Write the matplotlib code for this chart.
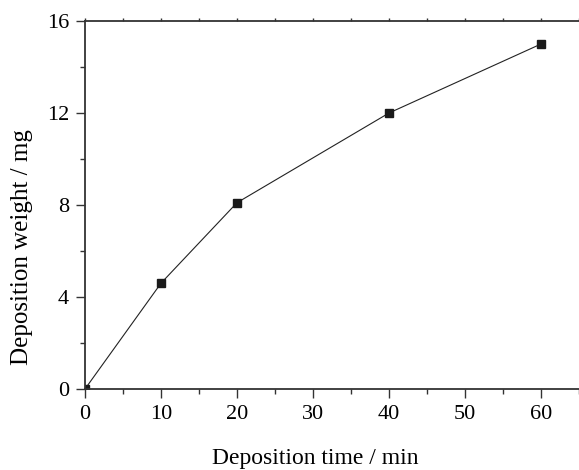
import matplotlib
matplotlib.use("Agg")
from matplotlib import pyplot as plt
from matplotlib.ticker import MultipleLocator

time_min = [0, 10, 20, 40, 60]
weight_mg = [0, 4.6, 8.1, 12.0, 15.0]

plt.rcParams["font.family"] = "Liberation Serif"

fig = plt.figure(figsize=(5.79, 4.70), dpi=100)
ax = fig.add_axes([0.1468, 0.1723, 0.8532, 0.783])

ax.plot(time_min, weight_mg, color="#222222", linewidth=0.8,
        marker="s", markersize=6, markerfacecolor="#1a1a1a",
        markeredgecolor="#1a1a1a")

ax.set_xlim(0, 65)
ax.set_ylim(0, 16)
ax.xaxis.set_major_locator(MultipleLocator(10))
ax.xaxis.set_minor_locator(MultipleLocator(5))
ax.yaxis.set_major_locator(MultipleLocator(4))
ax.yaxis.set_minor_locator(MultipleLocator(2))

for side in ["left", "bottom", "top"]:
    ax.spines[side].set_linewidth(1.3)
    ax.spines[side].set_color("#333333")
ax.spines["right"].set_visible(False)

ax.tick_params(which="major", direction="out", length=6.5, width=1.0,
               color="#333333", labelsize=16, pad=5)
ax.tick_params(which="minor", direction="out", length=3.5, width=1.0,
               color="#333333")

# small marks along the top frame every 5 min
top = ax.secondary_xaxis("top")
top.xaxis.set_major_locator(MultipleLocator(5))
top.tick_params(which="both", direction="out", length=2, width=1.0,
                color="#333333", labeltop=False)
top.spines["top"].set_visible(False)

ax.set_xlabel("Deposition time / min", fontsize=17)
ax.set_ylabel("Deposition weight / mg", fontsize=18)
ax.xaxis.set_label_coords(0.4656, -0.16)
ax.yaxis.set_label_coords(-0.105, 0.3845)

fig.savefig("out.png", dpi=100)
